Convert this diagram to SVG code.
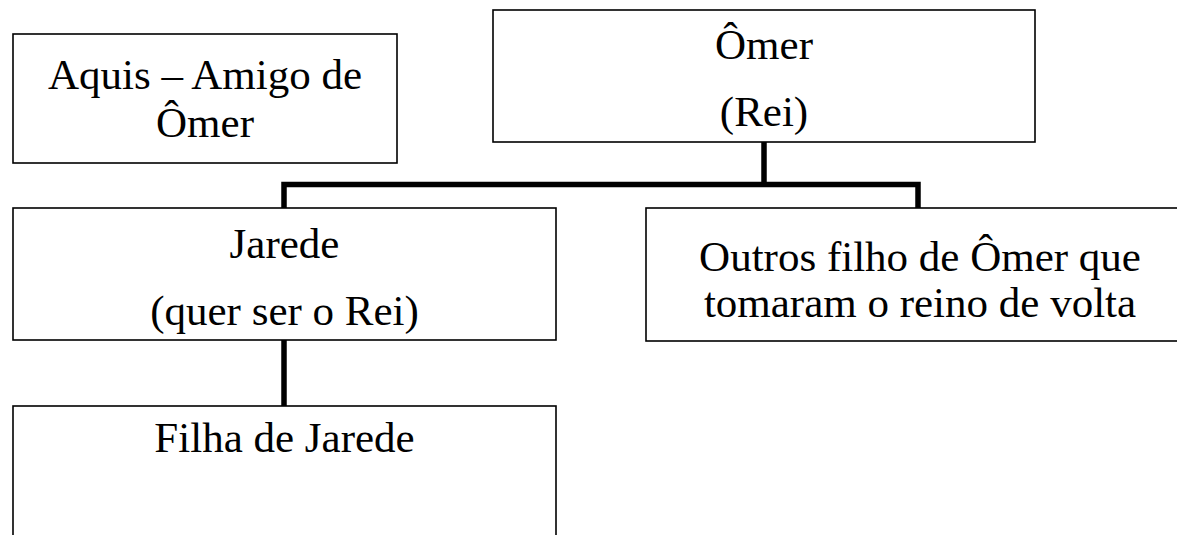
<svg xmlns="http://www.w3.org/2000/svg" width="1177" height="535" viewBox="0 0 1177 535">
<style>
.box{fill:#fff;stroke:#000;stroke-width:1.6}
.t{font-family:"Liberation Serif","Times New Roman",serif;font-size:43px;fill:#000;text-anchor:middle}
.c{stroke:#000;stroke-width:5.5;fill:none}
</style>
<rect width="1177" height="535" fill="#fff"/>
<g id="connectors">
<line class="c" x1="764" y1="142" x2="764" y2="184.5"/>
<polyline class="c" points="284,208 284,184.5 918,184.5 918,208"/>
<line class="c" x1="284" y1="340" x2="284" y2="406"/>
</g>
<g id="aquis">
<rect class="box" x="13" y="34" width="384" height="129"/>
<text class="t" x="205" y="89">Aquis – Amigo de</text>
<text class="t" x="205" y="137">Ômer</text>
</g>
<g id="omer">
<rect class="box" x="493" y="10" width="542" height="132"/>
<text class="t" x="764" y="59">Ômer</text>
<text class="t" x="764" y="126">(Rei)</text>
</g>
<g id="jarede">
<rect class="box" x="13" y="208" width="543" height="132"/>
<text class="t" x="284.5" y="258">Jarede</text>
<text class="t" x="284.5" y="325">(quer ser o Rei)</text>
</g>
<g id="outros">
<rect class="box" x="646" y="208" width="540" height="133"/>
<text class="t" x="920" y="271">Outros filho de Ômer que</text>
<text class="t" x="920" y="317">tomaram o reino de volta</text>
</g>
<g id="filha">
<rect class="box" x="13" y="406" width="543" height="140"/>
<text class="t" x="284.5" y="452">Filha de Jarede</text>
</g>
</svg>
